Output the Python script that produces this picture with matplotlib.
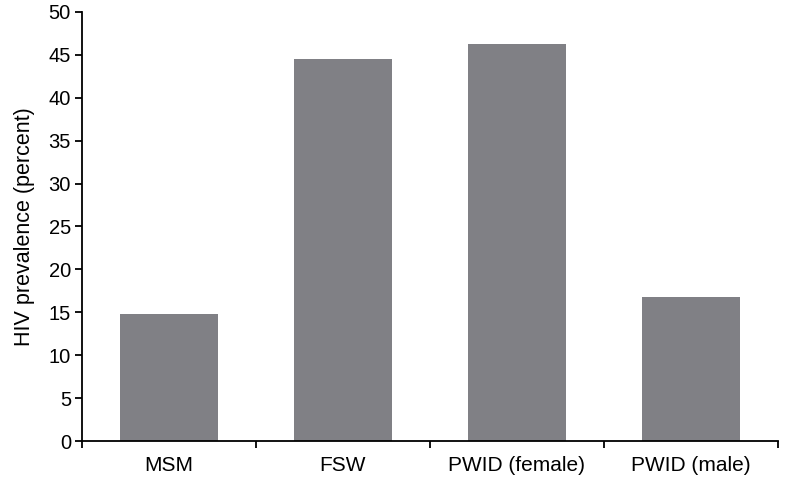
import matplotlib.pyplot as plt
import numpy as np

# данные
groups = ['MSM', 'FSW', 'PWID (female)', 'PWID (male)']
prevalence = [14.8, 44.5, 46.3, 16.8]
y_ticks = [0, 5, 10, 15, 20, 25, 30, 35, 40, 45, 50]

plt.rcParams['font.family'] = ['Liberation Sans', 'DejaVu Sans']

fig = plt.figure(figsize=(7.85, 4.84), dpi=100)
ax = fig.add_axes([0.1045, 0.0888, 0.8865, 0.8865])

x = np.arange(len(groups))
ax.bar(x, prevalence, width=0.56, color='#808085')

ax.set_xlim(-0.5, len(groups) - 0.5)
ax.set_ylim(0, 50)
ax.set_yticks(y_ticks)
ax.tick_params(axis='y', labelsize=14.5, length=5, width=1.3, pad=3)

# подписи категорий без делений, деления между категориями
ax.set_xticks(x)
ax.set_xticklabels(groups, fontsize=15)
ax.tick_params(axis='x', which='major', length=0, pad=11)
ax.set_xticks(np.arange(-0.5, len(groups)), minor=True)
ax.tick_params(axis='x', which='minor', length=5, width=1.3)

ax.spines['top'].set_visible(False)
ax.spines['right'].set_visible(False)
ax.spines['left'].set_linewidth(1.3)
ax.spines['bottom'].set_linewidth(1.3)

ax.set_ylabel('HIV prevalence (percent)', fontsize=15.5, labelpad=10)

fig.savefig('out.png', dpi=100)
